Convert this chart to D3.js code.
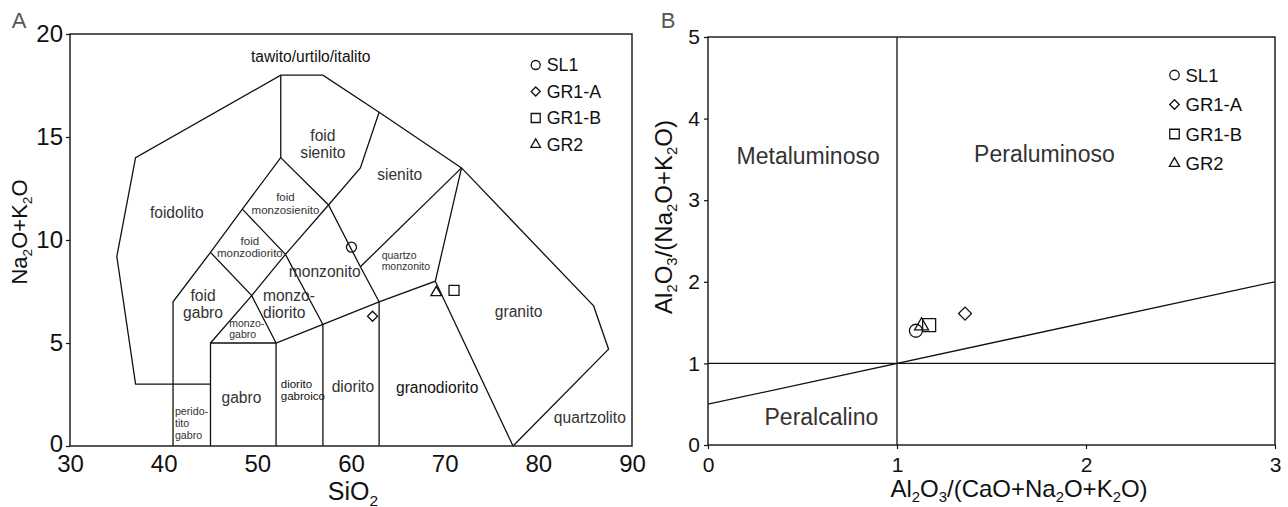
<!DOCTYPE html>
<html>
<head>
<meta charset="utf-8">
<script src="https://cdn.jsdelivr.net/npm/d3@7"></script>
<style>
  body { margin: 0; background: #fff; }
  text { font-family: "Liberation Sans", Arial, Helvetica, sans-serif; }
</style>
</head>
<body>
<svg id="chart" width="1288" height="507"></svg>
<script>
// ---- data ----
// panel A: TAS field boundaries (SiO2, Na2O+K2O)
const tasOutline = [[45,3],[37,3],[35,9.2],[37,14],[52.5,18],[57,18],[63,16.2],[71.8,13.5],[85.9,6.8],[87.5,4.7],[77.3,0]];
const tasLines = [
  [[41,0],[41,7],[45,9.4],[48.4,11.5],[52.5,14],[52.5,18]],
  [[45,0],[45,5],[52,5],[57,5.9],[63,7],[69,8],[71.8,13.5]],
  [[52,0],[52,5]],
  [[57,0],[57,5.9]],
  [[63,0],[63,7]],
  [[69,8],[77.3,0]],
  [[45,5],[49.4,7.3],[53,9.3],[57.6,11.7],[61,13.5],[63,16.2]],
  [[45,9.4],[49.4,7.3],[52,5]],
  [[48.4,11.5],[53,9.3],[57,5.9]],
  [[52.5,14],[57.6,11.7],[61,8.7],[63,7]],
  [[61,8.7],[71.8,13.5]]
];
// field names: [text lines, x, y, size, anchor, colour]
const tasLabels = [
  [["tawito/urtilo/italito"], 55.7, 18.9, 15.6, "middle", "#111"],
  [["foid", "sienito"], 57.0, 15.1, 15.6, "middle", "#333"],
  [["sienito"], 65.2, 13.2, 15.6, "middle", "#333"],
  [["foidolito"], 41.4, 11.35, 15.6, "middle", "#333"],
  [["foid", "monzosienito"], 53.0, 12.1, 11.5, "middle", "#333"],
  [["foid", "monzodiorito"], 49.2, 9.97, 11.5, "middle", "#333"],
  [["foid", "gabro"], 44.2, 7.33, 15.6, "middle", "#333"],
  [["monzo-", "diorito"], 50.6, 7.33, 15.6, "start", "#333"],
  [["monzo-", "gabro"], 47.0, 5.97, 10.5, "start", "#333"],
  [["monzonito"], 57.2, 8.46, 15.6, "middle", "#333"],
  [["quartzo", "monzonito"], 63.27, 9.27, 10.5, "start", "#333"],
  [["granito"], 77.9, 6.52, 15.6, "middle", "#333"],
  [["granodiorito"], 69.2, 2.85, 15.6, "middle", "#111"],
  [["diorito"], 60.2, 2.91, 15.6, "middle", "#333"],
  [["diorito", "gabroico"], 52.5, 3.04, 11.5, "start", "#111"],
  [["gabro"], 48.3, 2.36, 15.6, "middle", "#333"],
  [["perido-", "tito", "gabro"], 41.2, 1.67, 10.7, "start", "#333"],
  [["quartzolito"], 85.5, 1.37, 15.6, "middle", "#333"]
];
const samples = ["SL1", "GR1-A", "GR1-B", "GR2"];
const shapes = ["circle", "diamond", "square", "triangle"];
const tasSiO2 = [60.05, 62.3, 71.0, 69.1];
const tasAlk = [9.65, 6.3, 7.55, 7.45];
const tickAx = [30, 40, 50, 60, 70, 80, 90];
const tickAy = [0, 5, 10, 15, 20];

// panel B: Shand index
const shandLines = [
  [[1,0],[1,5]],
  [[0,1],[3,1]],
  [[0,0.5],[3,2]]
];
const shandLabels = [
  ["Metaluminoso", 0.53, 3.54],
  ["Peraluminoso", 1.78, 3.57],
  ["Peralcalino", 0.60, 0.35]
];
const acnk = [1.10, 1.36, 1.17, 1.13];
const ank = [1.40, 1.61, 1.47, 1.46];
const tickBx = [0, 1, 2, 3];
const tickBy = [0, 1, 2, 3, 4, 5];

// ---- drawing ----
const svg = d3.select("#chart");
const line = d3.line();

function symbolPath(shape, s) {
  if (shape === "circle") return d3.symbol(d3.symbolCircle, Math.PI * s * s / 4)();
  if (shape === "square") return d3.symbol(d3.symbolSquare, s * s)();
  if (shape === "triangle") return d3.symbol(d3.symbolTriangle, s * s * 0.5)();
  return d3.symbol(d3.symbolSquare, s * s * 0.5)(); // diamond = rotated square
}
function drawSymbol(g, shape, x, y, s) {
  g.append("path")
    .attr("d", symbolPath(shape, s))
    .attr("transform", `translate(${x},${y})` + (shape === "diamond" ? " rotate(45)" : ""))
    .attr("fill", "none")
    .attr("stroke", "#111")
    .attr("stroke-width", 1.3);
}

// text with subscripts: parts = [[str, isSub], ...]
function subText(g, parts, size) {
  const t = g.append("text").attr("font-size", size).attr("fill", "#111");
  let shifted = false;
  parts.forEach(([s, sub]) => {
    const ts = t.append("tspan").text(s);
    if (sub && !shifted) { ts.attr("font-size", size * 0.62).attr("dy", size * 0.22); shifted = true; }
    else if (!sub && shifted) { ts.attr("dy", -size * 0.22); shifted = false; }
  });
  return t;
}

function styleAxis(g, size) {
  g.select(".domain").remove();
  g.selectAll(".tick line").attr("stroke", "#111").attr("stroke-width", 1.2);
  g.selectAll(".tick text").attr("font-size", size).attr("fill", "#111")
    .attr("font-family", '"Liberation Sans", Arial, sans-serif');
}

function legend(g, x, y, step, size, symSize) {
  samples.forEach((s, i) => {
    drawSymbol(g, shapes[i], x, y + i * step, symSize);
    g.append("text").attr("x", x + 11).attr("y", y + i * step).attr("dy", "0.36em")
      .attr("font-size", size).attr("fill", "#111").text(s);
  });
}

// ---------- panel A ----------
const xA = d3.scaleLinear().domain([30, 90]).range([70, 632]);
const yA = d3.scaleLinear().domain([0, 20]).range([446, 34]);
const gA = svg.append("g");

gA.append("path").datum(tasOutline.map(d => [xA(d[0]), yA(d[1])]))
  .attr("d", line).attr("fill", "none").attr("stroke", "#111").attr("stroke-width", 1.3);
gA.selectAll(".fieldline").data(tasLines).join("path")
  .attr("d", d => line(d.map(p => [xA(p[0]), yA(p[1])])))
  .attr("fill", "none").attr("stroke", "#111").attr("stroke-width", 1.3);

tasLabels.forEach(([lines, x, y, size, anchor, col]) => {
  const t = gA.append("text").attr("x", xA(x)).attr("y", yA(y))
    .attr("font-size", size).attr("fill", col).attr("text-anchor", anchor);
  lines.forEach((l, i) => {
    t.append("tspan").attr("x", xA(x)).attr("dy", i === 0 ? "0.36em" : size * 1.1).text(l);
  });
});

gA.append("rect").attr("x", xA(30)).attr("y", yA(20))
  .attr("width", xA(90) - xA(30)).attr("height", yA(0) - yA(20))
  .attr("fill", "none").attr("stroke", "#222").attr("stroke-width", 1.5);

gA.append("g").attr("transform", `translate(${xA(30)},0)`)
  .call(d3.axisLeft(yA).tickValues(tickAy).tickFormat(d3.format("d")).tickSize(4).tickPadding(3))
  .call(g => styleAxis(g, 24))
  .call(g => g.selectAll(".tick text").attr("dy", d => d === 0 ? "0.22em" : "0.32em"));
gA.append("g").attr("transform", `translate(0,${yA(0)})`)
  .call(d3.axisBottom(xA).tickValues(tickAx).tickFormat(d3.format("d")).tickSize(0).tickPadding(8.5))
  .call(g => styleAxis(g, 24));

samples.forEach((s, i) => drawSymbol(gA, shapes[i], xA(tasSiO2[i]), yA(tasAlk[i]), 10));
legend(gA, 535.7, 65, 26.5, 17.8, 9);

subText(gA.append("g").attr("transform", "translate(353,500)"), [["SiO", 0], ["2", 1]], 25)
  .attr("text-anchor", "middle");
subText(gA.append("g").attr("transform", "translate(27,232) rotate(-90)"),
  [["Na", 0], ["2", 1], ["O+K", 0], ["2", 1], ["O", 0]], 22).attr("text-anchor", "middle");
gA.append("text").attr("x", 19).attr("y", 28).attr("text-anchor", "middle")
  .attr("font-size", 22).attr("fill", "#555").text("A");

// ---------- panel B ----------
const xB = d3.scaleLinear().domain([0, 3]).range([708, 1275]);
const yB = d3.scaleLinear().domain([0, 5]).range([445, 37]);
const gB = svg.append("g");

gB.selectAll(".shand").data(shandLines).join("path")
  .attr("d", d => line(d.map(p => [xB(p[0]), yB(p[1])])))
  .attr("fill", "none").attr("stroke", "#111").attr("stroke-width", 1.3);

shandLabels.forEach(([s, x, y]) => {
  gB.append("text").attr("x", xB(x)).attr("y", yB(y)).attr("dy", "0.36em")
    .attr("text-anchor", "middle").attr("font-size", 23).attr("fill", "#333").text(s);
});

gB.append("rect").attr("x", xB(0)).attr("y", yB(5))
  .attr("width", xB(3) - xB(0)).attr("height", yB(0) - yB(5))
  .attr("fill", "none").attr("stroke", "#222").attr("stroke-width", 1.5);

gB.append("g").attr("transform", `translate(${xB(0)},0)`)
  .call(d3.axisLeft(yB).tickValues(tickBy).tickFormat(d3.format("d")).tickSize(4).tickPadding(4))
  .call(g => styleAxis(g, 21));
gB.append("g").attr("transform", `translate(0,${yB(0)})`)
  .call(d3.axisBottom(xB).tickValues(tickBx).tickFormat(d3.format("d")).tickSize(4).tickPadding(8))
  .call(g => styleAxis(g, 21));

samples.forEach((s, i) => drawSymbol(gB, shapes[i], xB(acnk[i]), yB(ank[i]), 13));
legend(gB, 1174.5, 75, 29.5, 18.5, 9.5);

subText(gB.append("g").attr("transform", "translate(1019,497)"),
  [["Al", 0], ["2", 1], ["O", 0], ["3", 1], ["/(CaO+Na", 0], ["2", 1], ["O+K", 0], ["2", 1], ["O)", 0]], 24)
  .attr("text-anchor", "middle");
subText(gB.append("g").attr("transform", "translate(672,217) rotate(-90)"),
  [["Al", 0], ["2", 1], ["O", 0], ["3", 1], ["/(Na", 0], ["2", 1], ["O+K", 0], ["2", 1], ["O)", 0]], 24)
  .attr("text-anchor", "middle");
gB.append("text").attr("x", 668).attr("y", 28).attr("text-anchor", "middle")
  .attr("font-size", 22).attr("fill", "#555").text("B");
</script>
</body>
</html>
